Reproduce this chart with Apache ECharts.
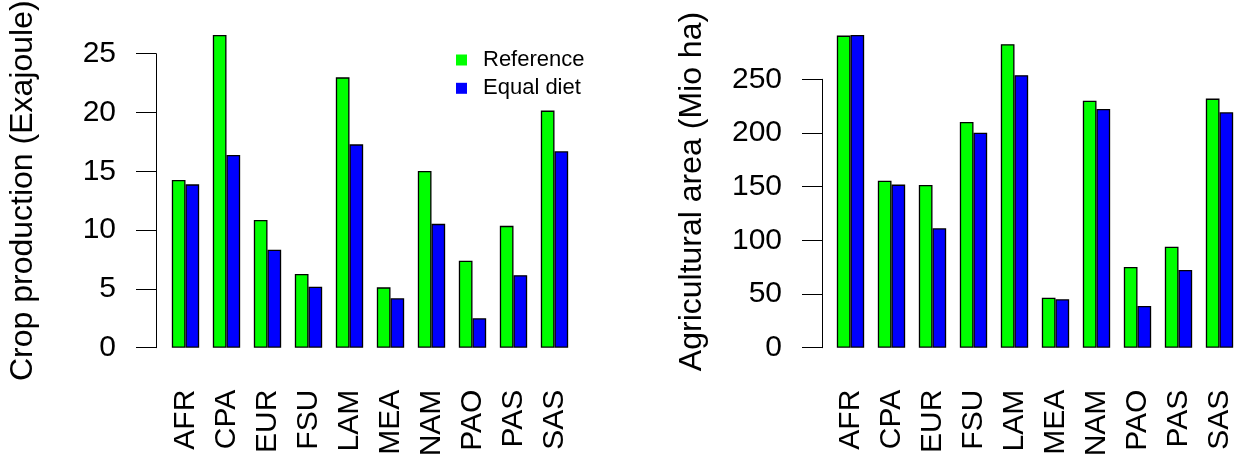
<!DOCTYPE html>
<html>
<head>
<meta charset="utf-8">
<script src="https://cdn.jsdelivr.net/npm/echarts@6/dist/echarts.min.js"></script>
<style>
html,body{margin:0;padding:0;background:#fff;}
#chart{width:1241px;height:460px;}
</style>
</head>
<body>
<div id="chart"></div>
<script>
const regions = ['AFR','CPA','EUR','FSU','LAM','MEA','NAM','PAO','PAS','SAS'];
const cropReference = [14.26, 26.59, 10.86, 6.27, 22.99, 5.13, 15.03, 7.39, 10.36, 20.16];
const cropEqualDiet = [13.89, 16.39, 8.33, 5.19, 17.29, 4.20, 10.53, 2.50, 6.17, 16.70];
const areaReference = [290.7, 155.6, 151.6, 210.3, 282.7, 46.6, 230.1, 75.2, 94.1, 232.0];
const areaEqualDiet = [291.3, 151.9, 111.2, 200.3, 253.8, 45.1, 222.4, 38.9, 72.4, 219.3];
const cropTicks = {min: 0, max: 25, interval: 5};
const areaTicks = {min: 0, max: 250, interval: 50};
const seriesNames = ['Reference', 'Equal diet'];
const colors = ['#00ff00', '#0000ff'];

const FONT = '"Liberation Sans", Arial, Helvetica, sans-serif';
const chart = echarts.init(document.getElementById('chart'), null, {renderer: 'canvas'});

function xAxisFor(gi) {
  return {
    type: 'category', gridIndex: gi, data: regions,
    axisLine: {show: false}, axisTick: {show: false},
    axisLabel: {rotate: 90, margin: 42, fontSize: 30, color: '#000', fontFamily: FONT, interval: 0}
  };
}
function yAxisFor(gi, ticks, name, gap, offset, shift) {
  return {
    type: 'value', gridIndex: gi, min: ticks.min, max: ticks.max, interval: ticks.interval,
    offset: offset,
    name: name, nameLocation: 'middle', nameRotate: 90, nameGap: gap,
    nameTextStyle: {fontSize: 32, color: '#000', fontFamily: FONT, padding: [0, 0, 0, shift]},
    axisLine: {show: true, lineStyle: {color: '#000', width: 1}},
    axisTick: {show: true, length: 20, lineStyle: {color: '#000', width: 1}},
    axisLabel: {margin: 40, fontSize: 30, color: '#000', fontFamily: FONT},
    splitLine: {show: false}
  };
}
function barSeries(name, data, gi, color) {
  return {
    type: 'bar', name: name, data: data, xAxisIndex: gi, yAxisIndex: gi,
    barWidth: 13.67, barGap: '0%', clip: false,
    itemStyle: {color: color, borderColor: '#000', borderWidth: 1.3},
    emphasis: {disabled: true}, animation: false
  };
}

chart.setOption({
  backgroundColor: '#fff',
  animation: false,
  grid: [
    {left: 165, top: 53.7, width: 410, height: 294, containLabel: false, outerBoundsMode: 'none'},
    {left: 830, top: 79.3, width: 410, height: 268.4, containLabel: false, outerBoundsMode: 'none'}
  ],
  legend: {
    data: seriesNames.map((n, i) => ({name: n, itemStyle: {color: colors[i], borderWidth: 0}})),
    orient: 'vertical', left: 451, top: 44,
    icon: 'rect', itemWidth: 11, itemHeight: 11, itemGap: 6.3,
    textStyle: {fontSize: 22, color: '#000', fontFamily: FONT, lineHeight: 22, padding: [0, 0, 0, 11]},
    selectedMode: false
  },
  xAxis: [xAxisFor(0), xAxisFor(1)],
  yAxis: [
    yAxisFor(0, cropTicks, 'Crop production (Exajoule)', 117, 9, 20),
    yAxisFor(1, areaTicks, 'Agricultural area (Mio ha)', 114, 8, 44)
  ],
  series: [
    barSeries(seriesNames[0], cropReference, 0, colors[0]),
    barSeries(seriesNames[1], cropEqualDiet, 0, colors[1]),
    barSeries(seriesNames[0], areaReference, 1, colors[0]),
    barSeries(seriesNames[1], areaEqualDiet, 1, colors[1])
  ]
});
</script>
</body>
</html>
